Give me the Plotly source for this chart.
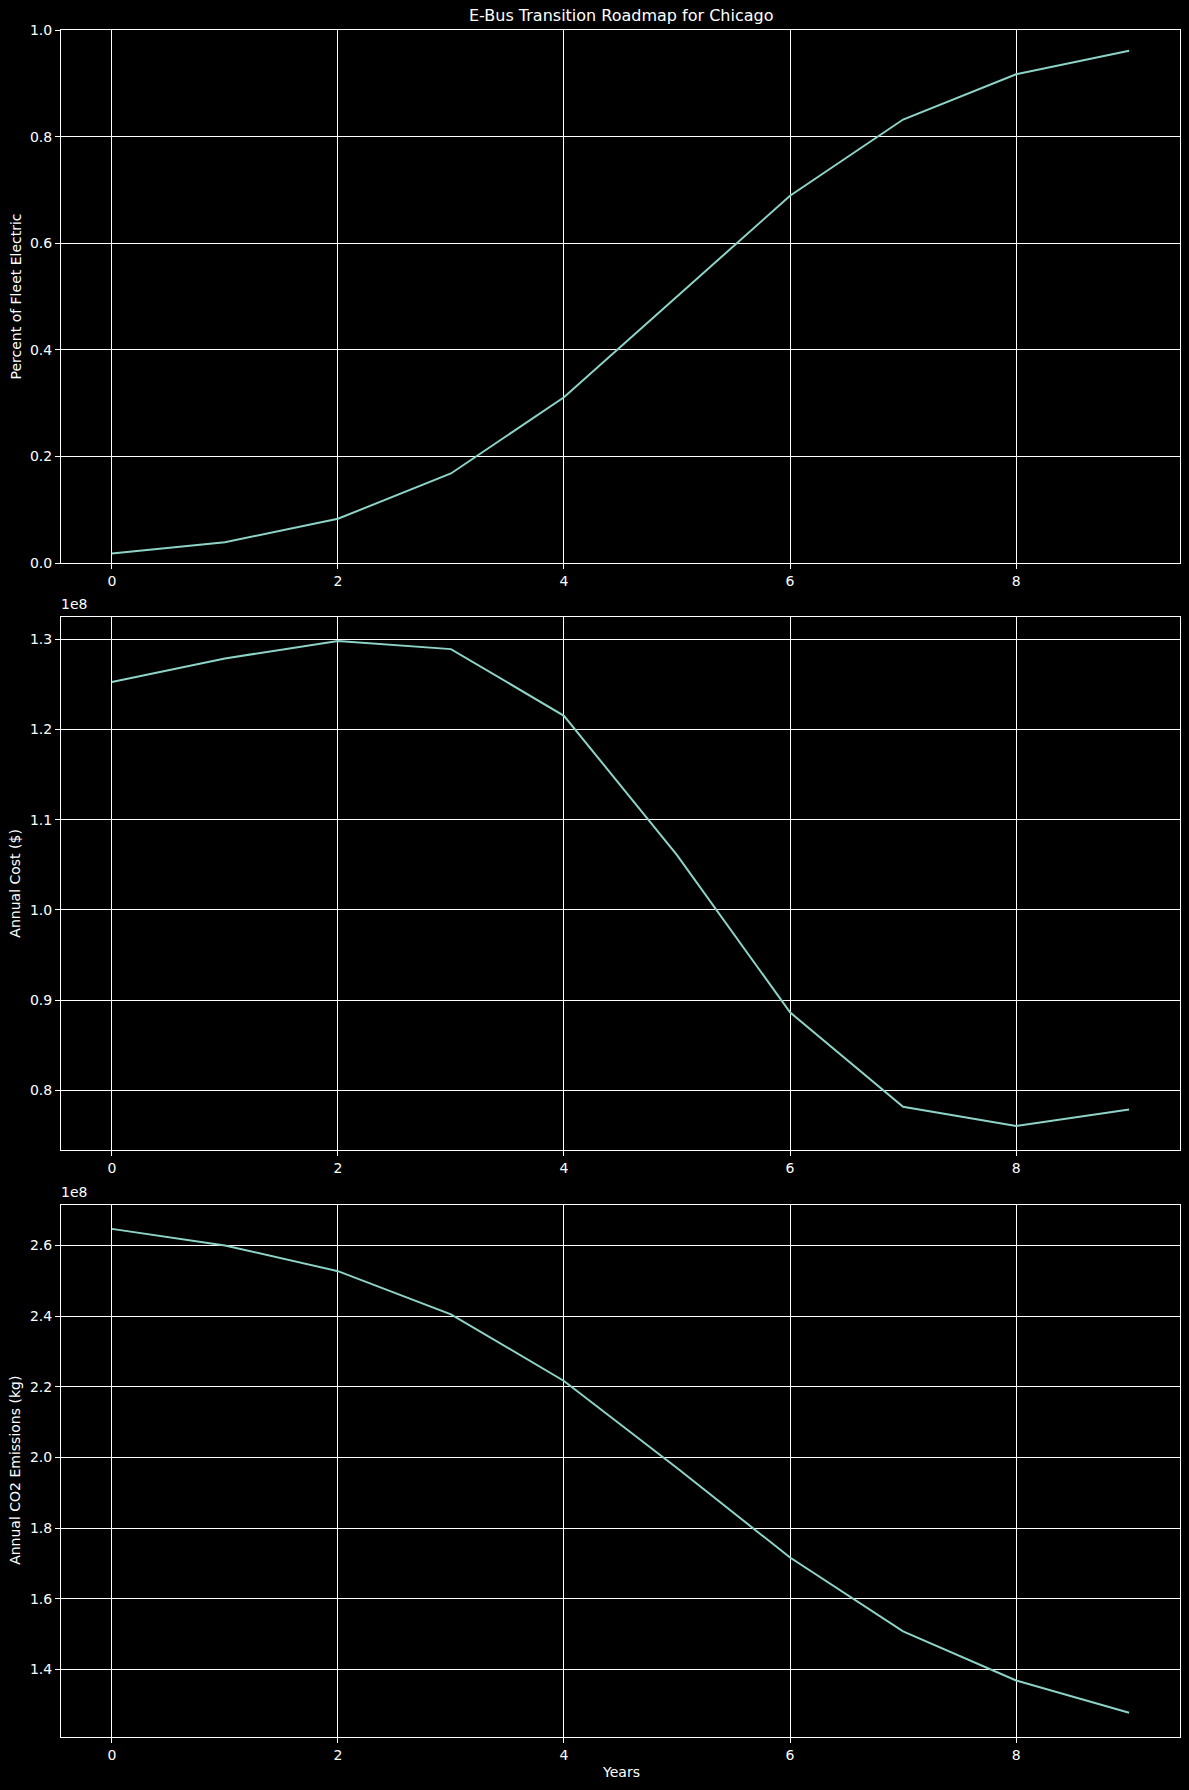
import plotly.graph_objects as go

years = [0, 1, 2, 3, 4, 5, 6, 7, 8, 9]
pct_electric = [0.018, 0.039, 0.083, 0.168, 0.311, 0.500, 0.689, 0.832, 0.917, 0.961]
annual_cost = [125270000, 127890000, 129810000, 128920000, 121530000,
               106090000, 88650000, 78180000, 76060000, 77890000]
annual_co2 = [264660000, 259970000, 252700000, 240500000, 221640000,
              197000000, 171700000, 150800000, 136900000, 127770000]

x_ticks = [0, 2, 4, 6, 8]
pct_ticks = [0.0, 0.2, 0.4, 0.6, 0.8, 1.0]
cost_ticks = [0.8e8, 0.9e8, 1.0e8, 1.1e8, 1.2e8, 1.3e8]
cost_tick_text = ["0.8", "0.9", "1.0", "1.1", "1.2", "1.3"]
co2_ticks = [1.4e8, 1.6e8, 1.8e8, 2.0e8, 2.2e8, 2.4e8, 2.6e8]
co2_tick_text = ["1.4", "1.6", "1.8", "2.0", "2.2", "2.4", "2.6"]

title_text = "E-Bus Transition Roadmap for Chicago"
ylabels = ["Percent of Fleet Electric", "Annual Cost ($)", "Annual CO2 Emissions (kg)"]
xlabel = "Years"

W, H = 1189, 1790
LINE = "#8dd3c7"
FONT = "DejaVu Sans"

x0, x1 = 61 / W, 1180 / W
panels = [(30, 563), (617, 1150.3), (1204.7, 1737)]
ydoms = [[1 - b / H, 1 - t / H] for t, b in panels]

fig = go.Figure()
series = [pct_electric, annual_cost, annual_co2]
for i, s in enumerate(series):
    fig.add_trace(go.Scatter(
        x=years, y=s, mode="lines",
        line=dict(color=LINE, width=2),
        xaxis="x" if i == 0 else f"x{i+1}",
        yaxis="y" if i == 0 else f"y{i+1}",
        showlegend=False, hoverinfo="skip",
    ))

axis_common = dict(
    showline=True, linecolor="white", linewidth=1, mirror=True,
    showgrid=True, gridcolor="white", gridwidth=1,
    zeroline=False, ticks="outside", ticklen=5, tickwidth=1, tickcolor="white",
    tickfont=dict(family=FONT, size=14, color="white"),
    automargin=False,
)

layout = dict(
    width=W, height=H, autosize=False,
    paper_bgcolor="black", plot_bgcolor="black",
    margin=dict(l=0, r=0, t=0, b=0, pad=0, autoexpand=False),
    font=dict(family=FONT, color="white"),
    showlegend=False,
)

yranges = [[0, 1], [0.7336e8, 1.3248e8], [1.2093e8, 2.715e8]]
ytickvals = [pct_ticks, cost_ticks, co2_ticks]
yticktext = [[f"{v:.1f}" for v in pct_ticks], cost_tick_text, co2_tick_text]

for i in range(3):
    xn = "xaxis" if i == 0 else f"xaxis{i+1}"
    yn = "yaxis" if i == 0 else f"yaxis{i+1}"
    yref = "y" if i == 0 else f"y{i+1}"
    xref = "x" if i == 0 else f"x{i+1}"
    layout[xn] = dict(axis_common, domain=[x0, x1], range=[-0.45, 9.45],
                      tickvals=x_ticks, ticktext=[str(v) for v in x_ticks],
                      anchor=yref)
    layout[yn] = dict(axis_common, domain=ydoms[i], range=yranges[i],
                      tickvals=ytickvals[i], ticktext=yticktext[i],
                      anchor=xref)

fig.update_layout(**layout)

annotations = [
    dict(text=title_text, x=(x0 + x1) / 2, y=1 - 16 / H, xref="paper", yref="paper",
         xanchor="center", yanchor="middle", showarrow=False,
         font=dict(family=FONT, size=16, color="white")),
    dict(text=xlabel, x=(x0 + x1) / 2, y=1 - 1772 / H, xref="paper", yref="paper",
         xanchor="center", yanchor="middle", showarrow=False,
         font=dict(family=FONT, size=14, color="white")),
]
for i, (t, b) in enumerate(panels):
    annotations.append(dict(text=ylabels[i], x=15 / W, y=1 - ((t + b) / 2) / H,
                            xref="paper", yref="paper", xanchor="center", yanchor="middle",
                            textangle=-90, showarrow=False,
                            font=dict(family=FONT, size=14, color="white")))
    if i > 0:
        annotations.append(dict(text="1e8", x=x0, y=1 - (t - 3) / H,
                                xref="paper", yref="paper", xanchor="left", yanchor="bottom",
                                showarrow=False, xshift=-2,
                                font=dict(family=FONT, size=14, color="white")))
fig.update_layout(annotations=annotations)

fig.write_html(
    "out.html",
    config={"displayModeBar": False, "staticPlot": True},
    post_script="document.body.style.margin='0';document.body.style.padding='0';"
                "document.body.style.background='black';"
                "document.documentElement.style.background='black';",
)
